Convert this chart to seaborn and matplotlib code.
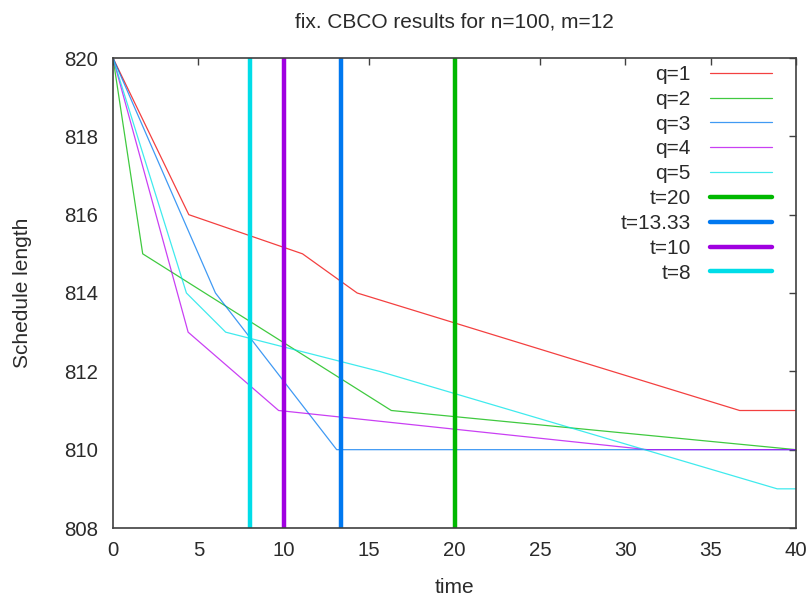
import matplotlib
matplotlib.use("Agg")
import matplotlib.pyplot as plt
import seaborn as sns
import pandas as pd

# data
q1_x = [0, 4.44, 11.1, 14.3, 36.7, 40]
q1_y = [820, 816, 815, 814, 811, 811]
q2_x = [0, 1.74, 16.3, 40]
q2_y = [820, 815, 811, 810]
q3_x = [0, 6.0, 13.1, 40]
q3_y = [820, 814, 810, 810]
q4_x = [0, 4.4, 9.7, 31.3, 40]
q4_y = [820, 813, 811, 810, 810]
q5_x = [0, 4.3, 6.6, 15.6, 38.9, 40]
q5_y = [820, 814, 813, 812, 809, 809]
series_labels = ["q=1", "q=2", "q=3", "q=4", "q=5"]
t_values = [20, 13.33, 10, 8]
t_labels = ["t=20", "t=13.33", "t=10", "t=8"]
x_ticks = [0, 5, 10, 15, 20, 25, 30, 35, 40]
y_ticks = [808, 810, 812, 814, 816, 818, 820]

series_colors = ["#f00000", "#00b800", "#0078f0", "#b800f0", "#00e4e8"]
t_colors = ["#00b800", "#0078f0", "#a000e0", "#00dde8"]

sns.set_style("white")
plt.rcParams["font.family"] = ["Liberation Sans", "DejaVu Sans"]

frames = []
for lab, xs, ys in zip(series_labels, [q1_x, q2_x, q3_x, q4_x, q5_x],
                       [q1_y, q2_y, q3_y, q4_y, q5_y]):
    frames.append(pd.DataFrame({"time": xs, "len": ys, "series": lab}))
df = pd.concat(frames, ignore_index=True)

fig = plt.figure(figsize=(8.08, 6.0), dpi=100)
ax = fig.add_axes([113 / 808, 1 - 528 / 600, (796 - 113) / 808, (528 - 58) / 600])

sns.lineplot(data=df, x="time", y="len", hue="series", palette=series_colors,
             hue_order=series_labels, sort=False, estimator=None,
             linewidth=0.9, alpha=0.75, ax=ax, legend=False)

handles = []
for lab, c in zip(series_labels, series_colors):
    h, = ax.plot([], [], color=c, lw=0.9, alpha=0.75, label=lab)
    handles.append(h)
for t, lab, c in zip(t_values, t_labels, t_colors):
    h = ax.axvline(t, color=c, lw=3.2, label=lab)
    handles.append(h)

ax.set_xlim(0, 40)
ax.set_ylim(808, 820)
ax.set_xticks(x_ticks)
ax.set_yticks(y_ticks)
ax.tick_params(direction="in", length=5, width=1, color="#404040",
               top=True, right=True, labelsize=14.7, labelcolor="#2a2a2a")
ax.tick_params(axis="x", pad=9)
ax.tick_params(axis="y", pad=11)
for s in ax.spines.values():
    s.set_color("#404040")
    s.set_linewidth(1.2)

ax.set_xlabel("time", fontsize=15, labelpad=13, color="#2a2a2a")
ax.set_ylabel("Schedule length", fontsize=15, labelpad=23, color="#2a2a2a")
ax.set_title("fix. CBCO results for n=100, m=12", fontsize=15, pad=22, color="#2a2a2a")

leg = ax.legend(handles=handles, loc="upper right", frameon=False, fontsize=15,
                markerfirst=False, handlelength=3.0, labelspacing=0.28,
                borderpad=0, borderaxespad=0, handletextpad=0.9,
                bbox_to_anchor=(1 - 24 / 683, 1 - 7 / 470))
for txt in leg.get_texts():
    txt.set_color("#2a2a2a")

fig.savefig("out.png", dpi=100)
